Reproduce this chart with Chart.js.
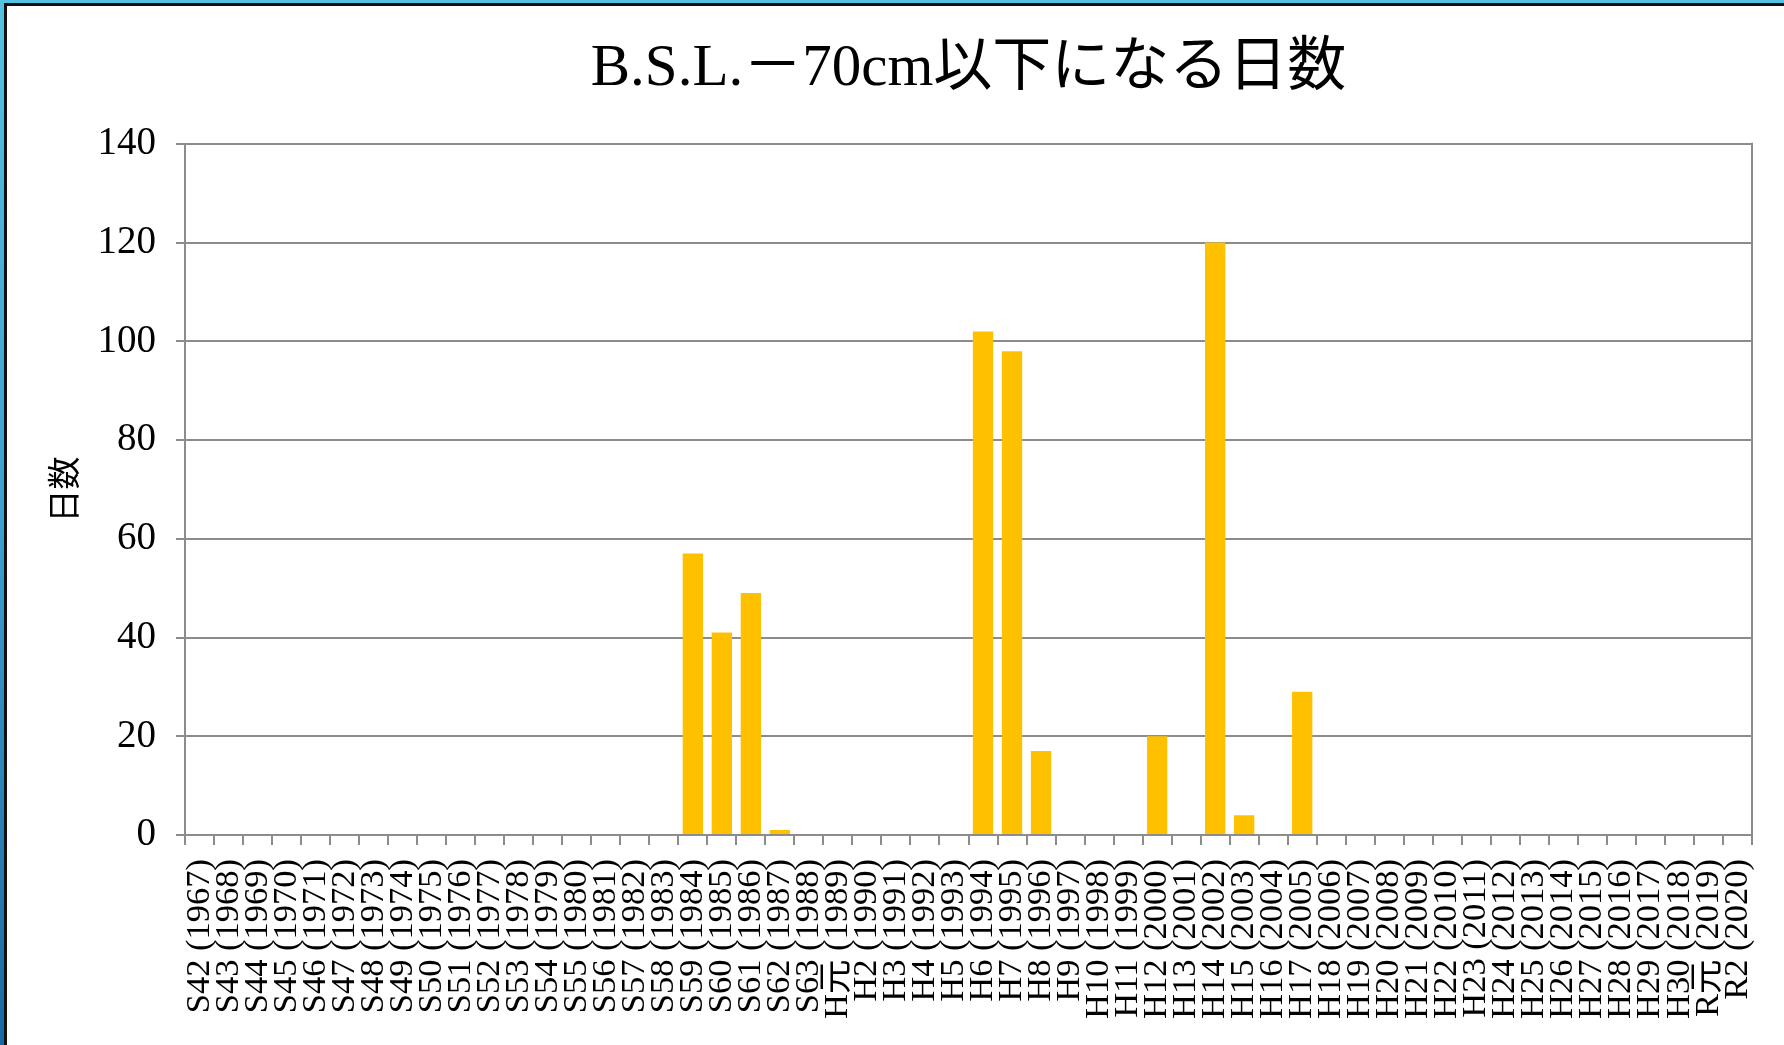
<!DOCTYPE html>
<html lang="ja">
<head>
<meta charset="utf-8">
<title>B.S.L.－70cm以下になる日数</title>
<script src="https://cdn.jsdelivr.net/npm/chart.js@4.4.1/dist/chart.umd.min.js"></script>
<style>
  html, body { margin: 0; padding: 0; width: 1784px; height: 1045px; overflow: hidden; background: #fff; }
  /* blue outer frame, then a thin black rule, then the white slide */
  #frame {
    width: 1784px; height: 1045px; box-sizing: border-box;
    padding: 3px 0 0 4px;
    background: linear-gradient(to bottom, #55c2e2 0%, #3f9fcf 50%, #1a68a3 100%);
  }
  #slide {
    width: 100%; height: 100%; box-sizing: border-box;
    border-top: 3px solid #111; border-left: 3px solid #111;
    background: #fff;
  }
  #stockChart { display: block; }
</style>
</head>
<body>
<div id="frame">
  <div id="slide">
    <canvas id="stockChart" width="1777" height="1039"></canvas>
  </div>
</div>
<script>
// Chart text and data
let chartTitle = 'B.S.L.－70cm以下になる日数';
let axisTitle = '日数';

// Fiscal years, era name + western year
let yearLabels = [
    'S42 (1967)', 'S43 (1968)', 'S44 (1969)', 'S45 (1970)', 'S46 (1971)', 'S47 (1972)',
    'S48 (1973)', 'S49 (1974)', 'S50 (1975)', 'S51 (1976)', 'S52 (1977)', 'S53 (1978)',
    'S54 (1979)', 'S55 (1980)', 'S56 (1981)', 'S57 (1982)', 'S58 (1983)', 'S59 (1984)',
    'S60 (1985)', 'S61 (1986)', 'S62 (1987)', 'S63 (1988)', 'H元 (1989)', 'H2 (1990)',
    'H3 (1991)', 'H4 (1992)', 'H5 (1993)', 'H6 (1994)', 'H7 (1995)', 'H8 (1996)',
    'H9 (1997)', 'H10 (1998)', 'H11 (1999)', 'H12 (2000)', 'H13 (2001)', 'H14 (2002)',
    'H15 (2003)', 'H16 (2004)', 'H17 (2005)', 'H18 (2006)', 'H19 (2007)', 'H20 (2008)',
    'H21 (2009)', 'H22 (2010)', 'H23 (2011)', 'H24 (2012)', 'H25 (2013)', 'H26 (2014)',
    'H27 (2015)', 'H28 (2016)', 'H29 (2017)', 'H30 (2018)', 'R元 (2019)', 'R2 (2020)'
];

// Number of days at or below B.S.L. -70cm
let dayCounts = [
    0, 0, 0, 0, 0, 0,
    0, 0, 0, 0, 0, 0,
    0, 0, 0, 0, 0, 57,
    41, 49, 1, 0, 0, 0,
    0, 0, 0, 102, 98, 17,
    0, 0, 0, 20, 0, 120,
    4, 0, 29, 0, 0, 0,
    0, 0, 0, 0, 0, 0,
    0, 0, 0, 0, 0, 0
];

// Y axis range
let yMin = 0;
let yMax = 140;
let yStep = 20;

// Styles
let barColor = '#ffc000';
let gridColor = '#8c8c8c';
let serifFont = "'Liberation Serif', 'Noto Sans CJK JP', serif";
let gothicFont = "'Noto Sans CJK JP', sans-serif";

// Draws the right edge of the plot box
let plotFramePlugin = {
    id: 'plotFrame',
    afterDraw: (chart) => {
        let area = chart.chartArea;
        let ctx = chart.ctx;
        ctx.save();
        ctx.strokeStyle = gridColor;
        ctx.lineWidth = 2;
        ctx.beginPath();
        ctx.moveTo(area.right, area.top - 1);
        ctx.lineTo(area.right, area.bottom + 10);
        ctx.stroke();
        ctx.restore();
    }
};

let ctx = document.getElementById('stockChart').getContext('2d');
let chart = new Chart(ctx, {
    type: 'bar',
    data: {
        labels: yearLabels,
        datasets: [{
            label: axisTitle,
            data: dayCounts,
            backgroundColor: barColor,
            borderWidth: 0,
            categoryPercentage: 1,
            barPercentage: 0.7
        }]
    },
    plugins: [plotFramePlugin],
    options: {
        responsive: false,
        animation: false,
        layout: { padding: { left: 0, right: 32, top: 0, bottom: 0 } },
        plugins: {
            legend: { display: false },
            tooltip: { enabled: false },
            title: {
                display: true,
                fullSize: false,
                text: chartTitle,
                color: '#000',
                font: { family: serifFont, size: 59, weight: 'normal' },
                padding: { top: 28, bottom: 39 }
            }
        },
        scales: {
            x: {
                afterFit: (scale) => {
                    // fixed axis height; rotated end labels fit inside the margins
                    scale.height = 210;
                    scale.paddingLeft = 0;
                    scale.paddingRight = 0;
                },
                border: { display: true, color: gridColor, width: 2 },
                grid: {
                    display: true,
                    offset: true,
                    drawOnChartArea: false,
                    drawTicks: true,
                    tickLength: 10,
                    color: gridColor,
                    lineWidth: 2
                },
                ticks: {
                    autoSkip: false,
                    minRotation: 90,
                    maxRotation: 90,
                    padding: 14,
                    color: '#000',
                    font: { family: serifFont, size: 34.5 }
                }
            },
            y: {
                min: yMin,
                max: yMax,
                afterFit: (scale) => { scale.width = 178; },
                border: { display: true, color: gridColor, width: 2 },
                grid: {
                    color: gridColor,
                    lineWidth: 2,
                    drawTicks: true,
                    tickLength: 9
                },
                ticks: {
                    stepSize: yStep,
                    padding: 20,
                    color: '#000',
                    font: { family: serifFont, size: 39 }
                },
                title: {
                    display: true,
                    text: axisTitle,
                    color: '#000',
                    font: { family: gothicFont, size: 33 },
                    padding: { top: 37, bottom: 20 }
                }
            }
        }
    }
});
</script>
</body>
</html>
